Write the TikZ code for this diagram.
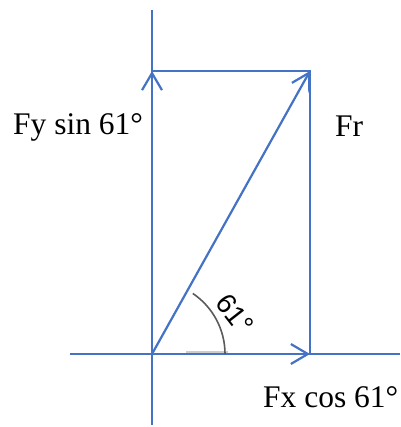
\documentclass[tikz,border=0pt]{standalone}
\usepackage{fontspec}
\setmainfont{Liberation Serif}
\newfontfamily\anglefont{Liberation Sans}
\usetikzlibrary{arrows.meta}
\definecolor{vecblue}{RGB}{68,114,196}
\definecolor{arcgray}{RGB}{90,90,90}
\definecolor{lightgray}{RGB}{205,205,205}
\tikzset{
  vec/.style={draw=vecblue, line width=2.2pt},
  vecarrow/.style={vec, -{Straight Barb[length=17pt,width=20pt,line width=2.2pt]}},
  lbl/.style={font=\fontsize{31.5}{36}\selectfont, inner sep=0pt, anchor=base west},
}
\begin{document}
\begin{tikzpicture}[x=1pt,y=-1pt]
\useasboundingbox (0,0) rectangle (400,427);
% key points
\coordinate (O) at (152,354);
\coordinate (A) at (152,71);
\coordinate (B) at (310,71);
\coordinate (C) at (310,354);
\coordinate (Vtop) at (152,10);
\coordinate (Vbot) at (152,425);
\coordinate (Hl) at (70,354);
\coordinate (Hr) at (400,354);
% axes
\draw[vec] (Vbot) -- (Vtop);
\draw[vec] (Hl) -- (Hr);
% rectangle sides
\draw[vec] (A) -- (B) -- (C);
% vectors
\draw[vecarrow] (O) -- (A);
\draw[vecarrow] (O) -- (C);
\draw[vecarrow] (O) -- (B);
% angle marking
\draw[lightgray, line width=1.5pt] (186,352) -- (228,352);
\draw[arcgray, line width=1.6pt] (225,354) arc[start angle=0, end angle=-56, radius=73];
\node[font=\anglefont\fontsize{28}{32}\selectfont, rotate=-52, inner sep=0pt] (ang) at (235,314) {61°};
% labels
\node[lbl] (fy) at (13,135) {Fy sin 61°};
\node[lbl] (fr) at (335,137) {Fr};
\node[lbl] (fx) at (263,407) {Fx cos 61°};
\end{tikzpicture}
\end{document}
